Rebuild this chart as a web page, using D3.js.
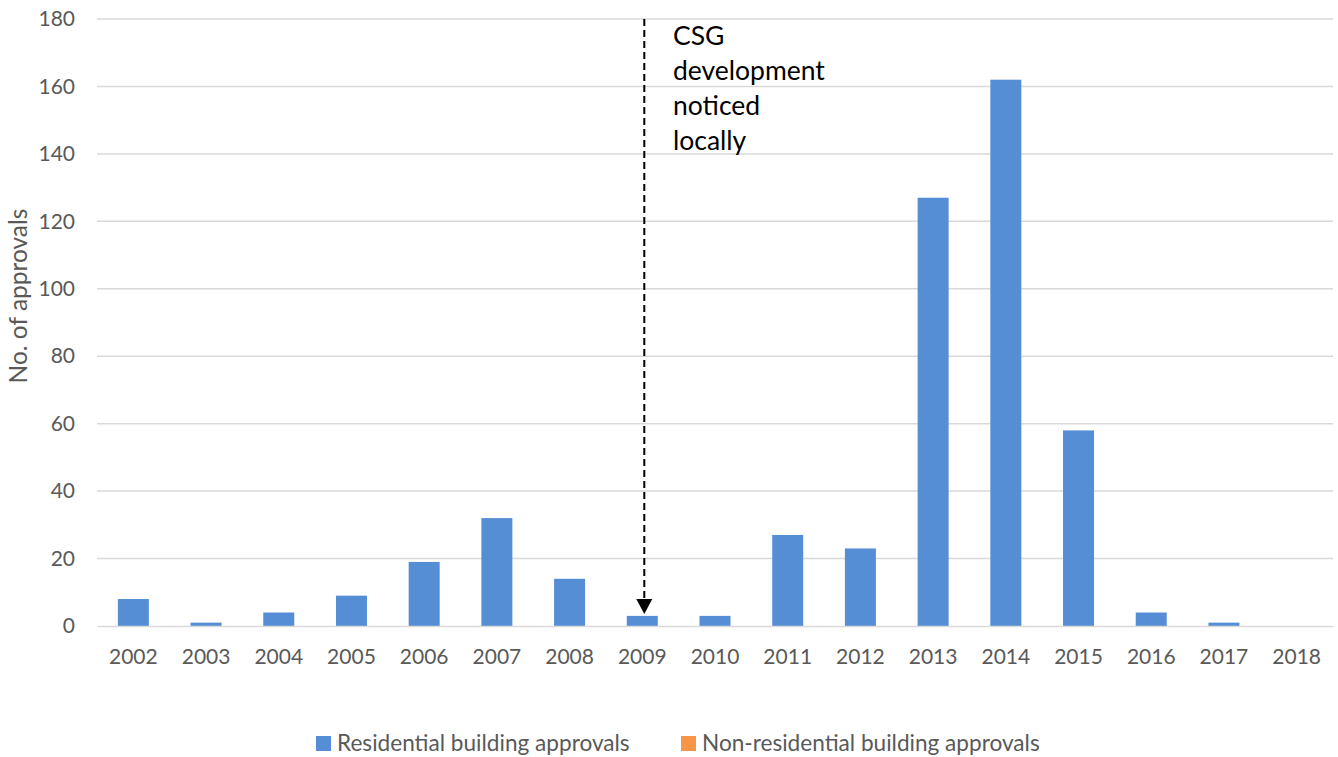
<!DOCTYPE html>
<html>
<head>
<meta charset="utf-8">
<script src="https://cdn.jsdelivr.net/npm/d3@7"></script>
<style>
  body { margin: 0; background: #fff; }
  svg { font-family: Lato, "Open Sans", sans-serif; }
</style>
</head>
<body>
<script>
var years = ["2002","2003","2004","2005","2006","2007","2008","2009","2010",
             "2011","2012","2013","2014","2015","2016","2017","2018"];
var residential = [8, 1, 4, 9, 19, 32, 14, 3, 3, 27, 23, 127, 162, 58, 4, 1, 0];
var nonResidential = [0, 0, 0, 0, 0, 0, 0, 0, 0, 0, 0, 0, 0, 0, 0, 0, 0];
var yTicks = [0, 20, 40, 60, 80, 100, 120, 140, 160, 180];
var seriesNames = ["Residential building approvals", "Non-residential building approvals"];
var seriesColors = ["#558ed5", "#f79646"];
var noteLines = ["CSG", "development", "noticed", "locally"];
var noteYear = "2009";

var W = 1338, H = 757;
var margin = { top: 19, right: 5, bottom: 131, left: 97 };
var width = W - margin.left - margin.right;
var height = H - margin.top - margin.bottom;

var svg = d3.select("body").append("svg")
    .attr("width", W)
    .attr("height", H);

var g = svg.append("g")
    .attr("transform", "translate(" + margin.left + "," + margin.top + ")");

var x = d3.scaleBand().domain(years).range([0, width]).paddingInner(0).paddingOuter(0);
var y = d3.scaleLinear().domain([0, 180]).range([height, 0]);

// gridlines
g.append("g")
    .selectAll("line")
    .data(yTicks.filter(function (d) { return d > 0; }))
    .enter().append("line")
    .attr("x1", 0).attr("x2", width)
    .attr("y1", function (d) { return y(d); })
    .attr("y2", function (d) { return y(d); })
    .attr("stroke", "#d9d9d9")
    .attr("stroke-width", 1.5);

// y axis labels
var yAxis = d3.axisLeft(y).tickValues(yTicks).tickSize(0).tickPadding(22);
var gY = g.append("g").call(yAxis);
gY.select(".domain").remove();
gY.selectAll("text")
    .attr("fill", "#595959")
    .style("font-size", "21px")
    .style("font-family", "Lato, sans-serif");

// bars
var barW = 31;
g.append("g")
    .selectAll("rect")
    .data(residential)
    .enter().append("rect")
    .attr("x", function (d, i) { return x(years[i]) + x.bandwidth() / 2 - barW / 2; })
    .attr("y", function (d) { return y(d); })
    .attr("width", barW)
    .attr("height", function (d) { return height - y(d); })
    .attr("fill", seriesColors[0]);

g.append("g")
    .selectAll("rect")
    .data(nonResidential)
    .enter().append("rect")
    .attr("x", function (d, i) { return x(years[i]) + x.bandwidth() / 2 + barW / 2; })
    .attr("y", function (d) { return y(d); })
    .attr("width", 0)
    .attr("height", function (d) { return height - y(d); })
    .attr("fill", seriesColors[1]);

// x axis
var xAxis = d3.axisBottom(x).tickSize(0).tickPadding(23);
var gX = g.append("g")
    .attr("transform", "translate(0," + height + ")")
    .call(xAxis);
gX.select(".domain").attr("stroke", "#d9d9d9").attr("stroke-width", 1.5);
gX.selectAll("text")
    .attr("fill", "#595959")
    .style("font-size", "21px")
    .style("font-family", "Lato, sans-serif");

// y axis title
svg.append("text")
    .attr("transform", "translate(27," + 296 + ") rotate(-90)")
    .attr("text-anchor", "middle")
    .attr("fill", "#595959")
    .style("font-size", "24.5px")
    .text("No. of approvals");

// annotation
var ax = x(noteYear) + x.bandwidth() / 2 + 2;
var tipY = y(residential[years.indexOf(noteYear)]) - 2;
g.append("line")
    .attr("x1", ax).attr("x2", ax)
    .attr("y1", 0).attr("y2", tipY - 14)
    .attr("stroke", "#000")
    .attr("stroke-width", 2)
    .attr("stroke-dasharray", "7,4");
g.append("path")
    .attr("d", "M" + (ax - 8) + "," + (tipY - 15) + "L" + (ax + 8) + "," + (tipY - 15) + "L" + ax + "," + tipY + "Z")
    .attr("fill", "#000");

var note = svg.append("text")
    .attr("x", 673)
    .attr("y", 45)
    .attr("fill", "#000")
    .style("font-size", "26.5px");
note.selectAll("tspan")
    .data(noteLines)
    .enter().append("tspan")
    .attr("x", 673)
    .attr("dy", function (d, i) { return i === 0 ? 0 : 35; })
    .text(function (d) { return d; });

// legend
var legend = svg.append("g");
var legendX = [316, 681];
seriesNames.forEach(function (name, i) {
    legend.append("rect")
        .attr("x", legendX[i]).attr("y", 736)
        .attr("width", 15).attr("height", 15)
        .attr("fill", seriesColors[i]);
    legend.append("text")
        .attr("x", legendX[i] + 21).attr("y", 751)
        .attr("fill", "#595959")
        .style("font-size", "22.6px")
        .text(name);
});
</script>
</body>
</html>
